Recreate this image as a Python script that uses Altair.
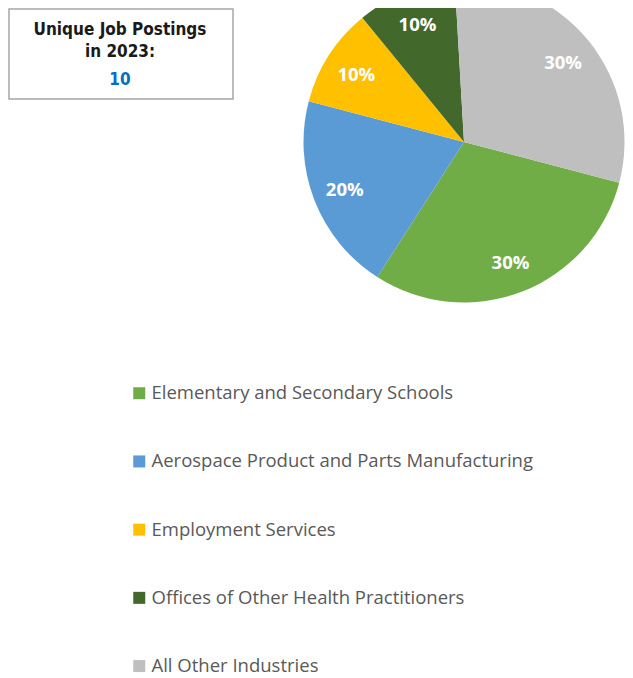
import math
import altair as alt
import pandas as pd

industries = [
    "Elementary and Secondary Schools",
    "Aerospace Product and Parts Manufacturing",
    "Employment Services",
    "Offices of Other Health Practitioners",
    "All Other Industries",
]
postings = [3, 2, 1, 1, 3]
share_labels = ["30%", "20%", "10%", "10%", "30%"]
colors = ["#70AD47", "#5B9BD5", "#FFC000", "#43682B", "#BFBFBF"]

box_title_lines = ["Unique Job Postings", "in 2023:"]
box_total = "10"

df = pd.DataFrame({
    "industry": industries,
    "postings": postings,
    "share": share_labels,
    "order": list(range(len(industries))),
})

start = math.radians(104.7)
theta_scale = alt.Scale(range=[start, start + 2 * math.pi])
CX, CY = 456, 134

base = alt.Chart(df).encode(
    theta=alt.Theta("postings:Q", stack=True, scale=theta_scale),
    order=alt.Order("order:Q"),
    x=alt.value(CX),
    y=alt.value(CY),
)

pie = base.mark_arc(radius=160.5, strokeWidth=0).encode(
    color=alt.Color(
        "industry:N",
        scale=alt.Scale(domain=industries, range=colors),
        legend=alt.Legend(
            orient="none",
            legendX=122,
            legendY=376,
            direction="vertical",
            title=None,
            symbolType="square",
            symbolSize=144,
            symbolStrokeWidth=0,
            labelFont="Open Sans",
            labelFontSize=18.5,
            labelColor="#595959",
            labelOffset=3,
            labelLimit=0,
            rowPadding=49.2,
            padding=0,
        ),
    )
)

labels = base.mark_text(
    radius=128, dy=2, font="Open Sans", fontSize=18.5, fontWeight="bold", color="white"
).encode(text="share:N")

box = alt.Chart(pd.DataFrame({"k": [0]})).mark_rect(
    fill="white", stroke="#A6A6A6", strokeWidth=1.5
).encode(
    x=alt.value(1), x2=alt.value(225), y=alt.value(1), y2=alt.value(91)
)

txt_df = pd.DataFrame({
    "t": box_title_lines + [box_total],
    "kind": ["title", "title", "total"],
    "yy": [27, 49, 77],
})
box_text = alt.Chart(txt_df).mark_text(
    font="Liberation Sans Narrow, Arial Narrow, DejaVu Sans Condensed, Liberation Sans",
    fontSize=17, fontWeight="bold",
    align="center", baseline="alphabetic",
).encode(
    x=alt.value(112),
    y=alt.Y("yy:Q", scale=alt.Scale(domain=[0, 670], range=[0, 670]), axis=None),
    text="t:N",
    color=alt.Color("kind:N", scale=alt.Scale(domain=["title", "total"], range=["#1A1A1A", "#0070C0"]), legend=None),
)

chart = alt.layer(pie, labels, box, box_text).resolve_scale(color="independent").properties(
    width=617, height=670, padding=0,
    autosize=alt.AutoSizeParams(type="none"),
).configure_view(strokeWidth=0)

chart.save("out.html", embed_options={"renderer": "svg", "actions": False})
